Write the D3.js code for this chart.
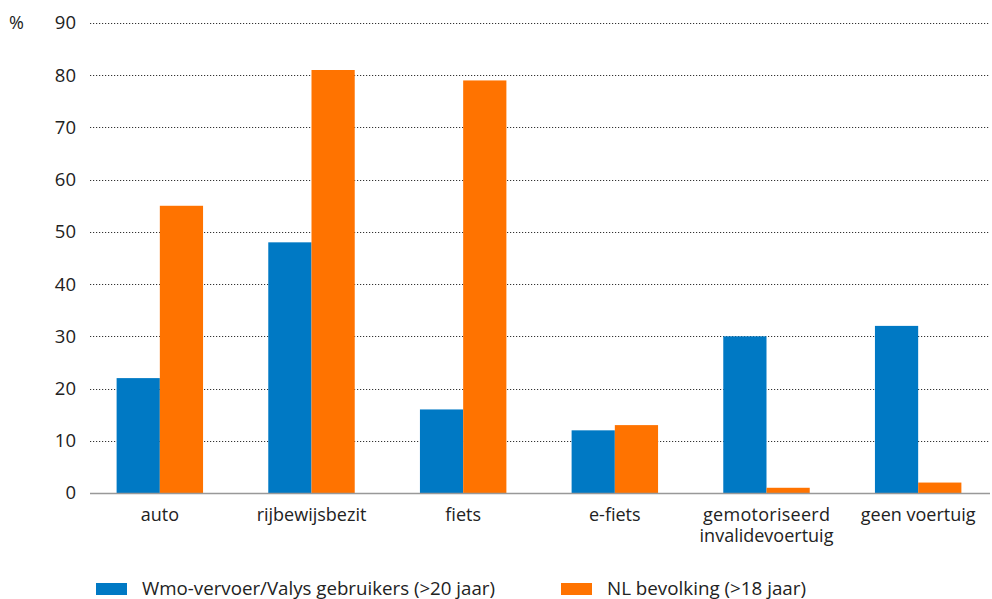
<!DOCTYPE html>
<html>
<head>
<meta charset="utf-8">
<script src="https://cdn.jsdelivr.net/npm/d3@7"></script>
<style>
  body { margin: 0; background: #fff; }
  svg { font-family: "Open Sans", "Noto Sans", sans-serif; }
</style>
</head>
<body>
<svg id="chart" width="992" height="599"></svg>
<script>
// Vervoermiddelbezit: Wmo-vervoer/Valys gebruikers vs. NL bevolking (%)
const categories = ["auto", "rijbewijsbezit", "fiets", "e-fiets", "gemotoriseerd\ninvalidevoertuig", "geen voertuig"];
const wmoValues = [22, 48, 16, 12, 30, 32];
const nlValues = [55, 81, 79, 13, 1, 2];
const seriesNames = ["Wmo-vervoer/Valys gebruikers (>20 jaar)", "NL bevolking (>18 jaar)"];
const seriesColors = ["#0079c4", "#ff7300"];
const yTicks = [0, 10, 20, 30, 40, 50, 60, 70, 80, 90];

const svg = d3.select("#chart");
const plotLeft = 90, plotRight = 990, plotTop = 23, plotBottom = 493;

const x = d3.scaleBand().domain(categories).range([84, 994]).paddingInner(0.43).paddingOuter(0.215);
const xs = d3.scaleBand().domain([0, 1]).range([0, x.bandwidth()]);
const y = d3.scaleLinear().domain([0, 90]).range([plotBottom, plotTop]);

// gridlines
svg.append("g").selectAll("line").data(yTicks.filter(d => d > 0)).join("line")
  .attr("x1", plotLeft).attr("x2", plotRight)
  .attr("y1", d => Math.round(y(d)) + 0.5).attr("y2", d => Math.round(y(d)) + 0.5)
  .attr("stroke", "#333").attr("stroke-width", 1).attr("stroke-dasharray", "1.2,1.8");

// y tick labels
const yAxis = d3.axisLeft(y).tickValues(yTicks).tickSize(0).tickPadding(0);
const gy = svg.append("g").attr("transform", `translate(76,0)`).call(yAxis);
gy.select(".domain").remove();
gy.selectAll("text").attr("font-size", 18.5).attr("fill", "#222").attr("font-family", "'Open Sans', sans-serif");

svg.append("text").attr("x", 9).attr("y", 29).attr("font-size", 18).attr("fill", "#222").text("%");

// bars
const groups = svg.append("g").selectAll("g").data(categories).join("g")
  .attr("transform", d => `translate(${x(d)},0)`);
groups.selectAll("rect").data((d, i) => [wmoValues[i], nlValues[i]]).join("rect")
  .attr("x", (d, j) => xs(j)).attr("width", xs.bandwidth())
  .attr("y", d => y(d)).attr("height", d => y(0) - y(d))
  .attr("fill", (d, j) => seriesColors[j]);

// baseline
svg.append("line").attr("x1", plotLeft).attr("x2", plotRight)
  .attr("y1", plotBottom + 0.5).attr("y2", plotBottom + 0.5)
  .attr("stroke", "#999").attr("stroke-width", 1.5);

// category labels
const xl = svg.append("g").selectAll("text").data(categories).join("text")
  .attr("x", d => x(d) + x.bandwidth() / 2).attr("y", 521)
  .attr("text-anchor", "middle").attr("font-size", 18).attr("fill", "#222");
xl.selectAll("tspan").data(d => d.split("\n")).join("tspan")
  .attr("x", function () { return this.parentNode.getAttribute("x"); })
  .attr("dy", (d, i) => i === 0 ? 0 : 20.5)
  .attr("textLength", d => d === "gemotoriseerd" ? 127 : null)
  .text(d => d);

// legend
const legendX = [96, 561];
const legendTextWidth = [353, 199];
const lg = svg.append("g").selectAll("g").data(seriesNames).join("g")
  .attr("transform", (d, i) => `translate(${legendX[i]},583)`);
lg.append("rect").attr("width", 31).attr("height", 12).attr("fill", (d, i) => seriesColors[i]);
lg.append("text").attr("x", 46).attr("y", 11.5).attr("font-size", 18.5).attr("fill", "#222")
  .attr("textLength", (d, i) => legendTextWidth[i]).attr("lengthAdjust", "spacingAndGlyphs")
  .text(d => d);
</script>
</body>
</html>
